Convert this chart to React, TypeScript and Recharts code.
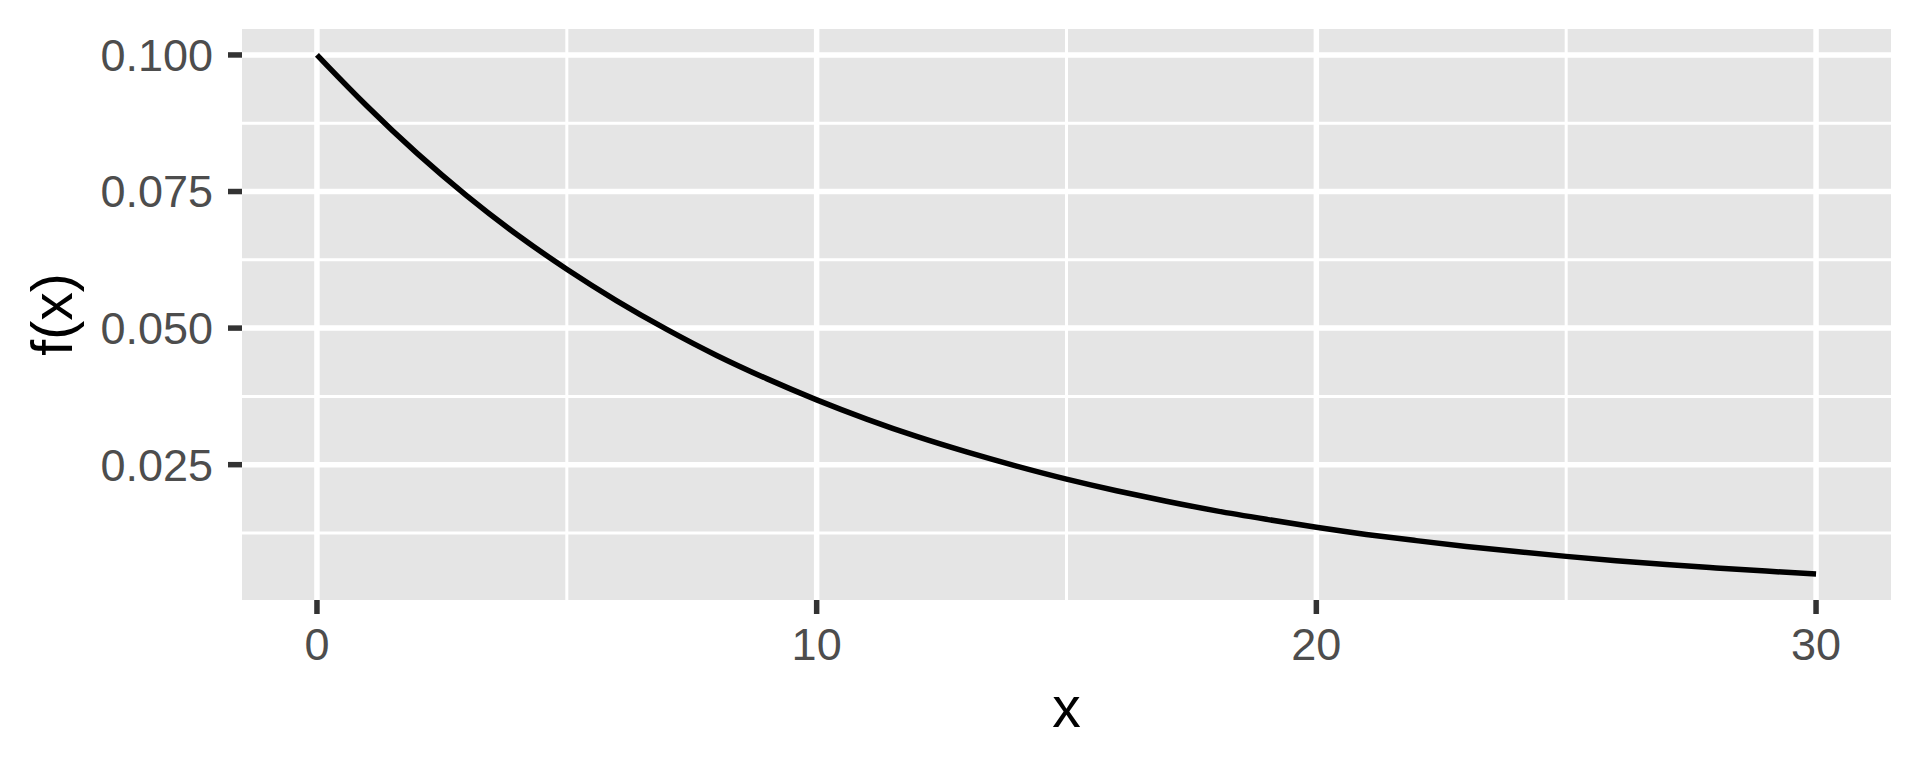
import React from 'react';
import { LineChart, Line, XAxis, YAxis, ReferenceLine, ReferenceArea } from 'recharts';

const xValues = [0, 1, 2, 3, 4, 5, 6, 7, 8, 9, 10, 11, 12, 13, 14, 15, 16, 17, 18, 19, 20, 21, 22, 23, 24, 25, 26, 27, 28, 29, 30];
const fValues = [
  0.1, 0.0905, 0.0819, 0.0741, 0.067, 0.0607, 0.0549, 0.0497, 0.0449, 0.0407,
  0.0368, 0.0333, 0.0301, 0.0273, 0.0247, 0.0223, 0.0202, 0.0183, 0.0165, 0.015,
  0.0135, 0.0122, 0.0111, 0.01, 0.0091, 0.0082, 0.0074, 0.0067, 0.0061, 0.0055, 0.005,
];
const xTicks = [0, 10, 20, 30];
const xMinor = [5, 15, 25];
const yTicks = [0.025, 0.05, 0.075, 0.1];
const yMinor = [0.0125, 0.0375, 0.0625, 0.0875];
const xDomain: [number, number] = [-1.5, 31.5];
const yDomain: [number, number] = [0.000229, 0.10475];

const data = xValues.map((x, i) => ({ x, f: fValues[i] }));

const FONT = '"Liberation Sans", Arial, Helvetica, sans-serif';

const XTitle = (props: any) => {
  const vb = props.viewBox;
  return (
    <text x={vb.x + vb.width / 2} y={727} textAnchor="middle" fontSize={57} fontFamily={FONT} fill="#000000">
      x
    </text>
  );
};

const YTitle = (props: any) => {
  const vb = props.viewBox;
  const cy = vb.y + vb.height / 2;
  return (
    <text x={72} y={cy} transform={`rotate(-90, 72, ${cy})`} textAnchor="middle" fontSize={57} fontFamily={FONT} fill="#000000">
      f(x)
    </text>
  );
};

export default function App() {
  return (
    <div style={{ position: 'absolute', left: 0, top: 0, width: 1920, height: 768, background: '#ffffff' }}>
      <LineChart width={1920} height={768} data={data} margin={{ top: 29, right: 29, bottom: 88, left: 0 }}>
        <XAxis
          dataKey="x"
          type="number"
          domain={xDomain}
          ticks={xTicks}
          allowDataOverflow
          height={80}
          axisLine={false}
          tickLine={{ stroke: '#333333', strokeWidth: 5.5 }}
          tickSize={14}
          tickMargin={14}
          tick={{ fill: '#4D4D4D', fontSize: 45, fontFamily: FONT }}
          label={<XTitle />}
        />
        <YAxis
          type="number"
          domain={yDomain}
          ticks={yTicks}
          allowDataOverflow
          width={242}
          axisLine={false}
          tickLine={{ stroke: '#333333', strokeWidth: 5.5 }}
          tickSize={14}
          tickMargin={15}
          tick={{ fill: '#4D4D4D', fontSize: 45, fontFamily: FONT }}
          tickFormatter={(v: number) => v.toFixed(3)}
          label={<YTitle />}
        />
        <ReferenceArea x1={xDomain[0]} x2={xDomain[1]} y1={yDomain[0]} y2={yDomain[1]} fill="#E5E5E5" fillOpacity={1} stroke="none" ifOverflow="hidden" />
        {yMinor.map((v) => (
          <ReferenceLine key={'ym' + v} y={v} stroke="#ffffff" strokeWidth={3} />
        ))}
        {xMinor.map((v) => (
          <ReferenceLine key={'xm' + v} x={v} stroke="#ffffff" strokeWidth={3} />
        ))}
        {yTicks.map((v) => (
          <ReferenceLine key={'yM' + v} y={v} stroke="#ffffff" strokeWidth={5.5} />
        ))}
        {xTicks.map((v) => (
          <ReferenceLine key={'xM' + v} x={v} stroke="#ffffff" strokeWidth={5.5} />
        ))}
        <Line
          type="basis"
          dataKey="f"
          stroke="#000000"
          strokeWidth={5.5}
          dot={false}
          activeDot={false}
          isAnimationActive={false}
        />
      </LineChart>
    </div>
  );
}
